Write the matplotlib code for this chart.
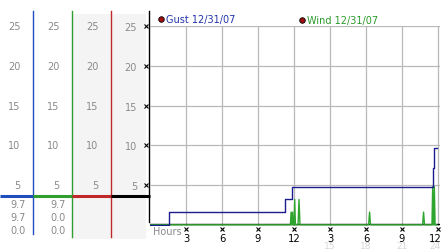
import matplotlib
matplotlib.use("Agg")
import matplotlib.pyplot as plt
import matplotlib.transforms as mtransforms

# Gust (step series, mph) and wind (spikes, mph) over the last 24 hours
gust_hours = [0, 1.55, 11.25, 11.8, 23.55, 23.68, 23.9]
gust_vals = [0, 1.6, 3.2, 4.8, 7.2, 9.7, 9.7]

wind_hours = [0, 11.70, 11.76, 11.82, 11.88, 11.94, 12.00, 12.06, 12.12, 12.18,
              12.34, 12.42, 12.50, 18.22, 18.30, 18.38, 22.72, 22.80, 22.88,
              23.50, 23.56, 23.62, 23.64, 23.70, 23.76, 23.9]
wind_vals = [0, 0, 1.6, 0, 1.6, 0, 0, 3.2, 0, 0,
             0, 3.2, 0, 0, 1.6, 0, 0, 1.6, 0,
             0, 4.8, 0, 0, 4.8, 0, 0]

y_ticks = [5, 10, 15, 20, 25]
x_ticks = [3, 6, 9, 12, 15, 18, 21, 24]
x_labels = ["3", "6", "9", "12", "3", "6", "9", "12"]
x_labels_faint = {15: "15", 18: "18", 21: "21", 24: "24"}

# summary values under the left columns (gust, wind)
gust_summary = ["9.7", "9.7", "0.0"]
wind_summary = ["9.7", "0.0", "0.0"]

legend_gust = "Gust 12/31/07"
legend_wind = "Wind 12/31/07"

GRAY_TXT = "#8a8a8a"
GRID = "#b8b8b8"
GUST_C = "#1c1c8e"
WIND_C = "#2fa52f"

W, H = 442, 253
fig = plt.figure(figsize=(W / 100, H / 100), dpi=100)
plt.rcParams["font.family"] = "DejaVu Sans"

# overlay in pixel coordinates for the left strip
ov = fig.add_axes([0, 0, 1, 1], zorder=0)
ov.set_xlim(0, W)
ov.set_ylim(H, 0)
ov.axis("off")

ax = fig.add_axes([150 / W, 26 / H, 290 / W, 200 / H], zorder=2)
ax.set_xlim(0, 24.17)
ax.set_ylim(-0.15, 25.05)
ax.patch.set_alpha(0)
for s in ax.spines.values():
    s.set_visible(False)

# grid
for h in x_ticks:
    ax.axvline(h, color=GRID, lw=0.9, zorder=1)
for v in y_ticks:
    ax.axhline(v, color=GRID, lw=0.9, zorder=1)

# data
ax.plot(wind_hours, wind_vals, color=WIND_C, lw=1, zorder=3)
ax.axhline(0.15, color="black", lw=1, zorder=2)
ax.plot(gust_hours, gust_vals, color=GUST_C, lw=1, drawstyle="steps-post", zorder=4)

# y labels (column 4) and x labels
ax.set_yticks(y_ticks)
ax.set_yticklabels([str(v) for v in y_ticks], color=GRAY_TXT, fontsize=7)
ax.set_xticks(x_ticks)
ax.set_xticklabels(x_labels, color="black", fontsize=7.2)
ax.tick_params(axis="y", length=0, pad=9.4)
ax.tick_params(axis="x", length=0, pad=5)

# keep the last label inside the picture (it sits on the right edge)
nudge = mtransforms.ScaledTranslation(-3 / 100, 0, fig.dpi_scale_trans)
last = ax.get_xticklabels()[-1]
last.set_transform(last.get_transform() + nudge)

# little tick glyphs
ax.plot([-0.3] * len(y_ticks), y_ticks, "x", color="black", ms=2.5, mew=0.8, clip_on=False)
ax.plot(x_ticks, [-0.55] * len(x_ticks), "x", color="black", ms=2.5, mew=0.8, clip_on=False)

for h, lab in x_labels_faint.items():
    dx = -3 if h == 24 else 0
    ax.annotate(lab, xy=(h, 0), xycoords=("data", "axes fraction"),
                xytext=(dx, -20), textcoords="offset pixels",
                ha="center", va="center", fontsize=6.5, color="#d6d6d6")

ax.text(0.25, -0.75, "Hours", color=GRAY_TXT, fontsize=7, va="center", ha="left", clip_on=False)

# legend
ov.plot([161], [20], "o", color="#a01010", mec="black", mew=0.6, ms=4)
ov.text(166, 20, legend_gust, color="#2233aa", fontsize=7, va="center", ha="left")
ov.plot([302], [21], "o", color="#a01010", mec="black", mew=0.6, ms=4)
ov.text(307, 21, legend_wind, color="#2a9a2a", fontsize=7, va="center", ha="left")

# left strip: background, column lines, header line
ov.add_patch(plt.Rectangle((72, 15), 74, 225, color="#f4f4f4", lw=0, zorder=0))
col_x = [33, 72, 111, 149]
col_c = ["#1f4fbf", "#2e9e2e", "#c0282a", "black"]
col_bottom = [235, 238, 238, 223]
seg_left = [0, 33, 72, 111]
seg_right = [33, 72, 111, 150]
for x, c, b, l, r in zip(col_x, col_c, col_bottom, seg_left, seg_right):
    ov.plot([x, x], [12, b], color=c, lw=1, zorder=2)
    ov.plot([l, r], [197, 197], color=c, lw=2.2, solid_capstyle="butt", zorder=3)

# y labels for columns 1-3 placed on the main data scale
blend = mtransforms.blended_transform_factory(ov.transData, ax.transData)
for x in col_x[:3]:
    for v in y_ticks:
        ov.text(x - 12.5, v, str(v), transform=blend, ha="right", va="center",
                fontsize=7, color=GRAY_TXT)

for i, (g, w) in enumerate(zip(gust_summary, wind_summary)):
    y = 205 + i * 13
    ov.text(26, y, g, ha="right", va="center", fontsize=7, color=GRAY_TXT)
    ov.text(66, y, w, ha="right", va="center", fontsize=7, color=GRAY_TXT)

plt.savefig("out.png", dpi=100)
